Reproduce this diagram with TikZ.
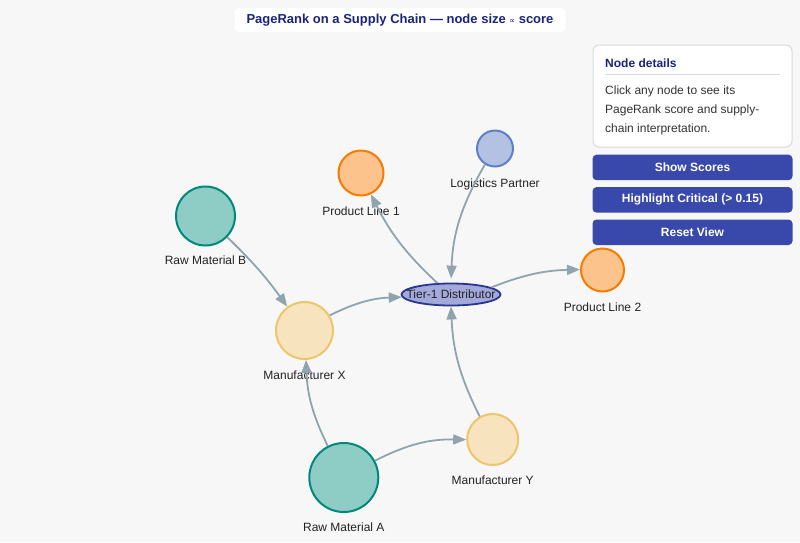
\documentclass[tikz,border=0pt]{standalone}
\usepackage{fontspec}
\setmainfont{Liberation Sans}
\setsansfont{Liberation Sans}
\newfontfamily\dejavu{DejaVu Sans}
\usetikzlibrary{arrows.meta,positioning,shapes.geometric}
\definecolor{ink}{HTML}{222222}
\definecolor{navy}{HTML}{1A237E}
\definecolor{canvas}{HTML}{F7F7F7}
\definecolor{edgegray}{HTML}{90A4AE}
\definecolor{teal}{HTML}{00897B}
\definecolor{tealfill}{HTML}{8ECDC5}
\definecolor{sand}{HTML}{EEC56B}
\definecolor{sandfill}{HTML}{F7E4BE}
\definecolor{orange}{HTML}{F57C00}
\definecolor{orangefill}{HTML}{FCC38D}
\definecolor{steel}{HTML}{5C7FC8}
\definecolor{steelfill}{HTML}{B3C1E2}
\definecolor{indigo}{HTML}{283593}
\definecolor{indigofill}{HTML}{A4A9DB}
\definecolor{button}{HTML}{3949AB}
\definecolor{panelline}{HTML}{D5DBE0}
\definecolor{bodytext}{HTML}{333333}
\tikzset{
  every node/.style={font=\sffamily},
  hub/.style={circle, line width=2pt, inner sep=0pt},
  rawnode/.style={hub, draw=teal, fill=tealfill},
  makernode/.style={hub, draw=sand, fill=sandfill},
  productnode/.style={hub, draw=orange, fill=orangefill},
  logisticsnode/.style={hub, draw=steel, fill=steelfill},
  distnode/.style={ellipse, line width=1.8pt, draw=indigo, fill=indigofill, inner sep=0pt, minimum width=99pt, minimum height=22pt, font=\sffamily\fontsize{12}{14}\selectfont, text=ink},
  caption/.style={font=\sffamily\fontsize{12}{14}\selectfont, text=ink, inner sep=0pt},
  flow/.style={-{Triangle[length=13pt,width=10pt]}, line width=1.8pt, draw=edgegray},
  titlebox/.style={fill=white, rounded corners=4pt, minimum width=331pt, minimum height=24pt, inner sep=0pt, text=navy, font=\sffamily\bfseries\fontsize{13}{15}\selectfont},
  panel/.style={draw=panelline, fill=white, rounded corners=6pt, line width=1pt, minimum width=199pt, minimum height=102pt, inner sep=0pt},
  panelhead/.style={text=navy, inner sep=0pt, font=\sffamily\bfseries\fontsize{12}{14}\selectfont},
  paneltext/.style={text=bodytext, inner sep=0pt, align=left, font=\sffamily\fontsize{12}{19}\selectfont},
  btn/.style={fill=button, rounded corners=4pt, minimum width=200pt, minimum height=25.5pt, inner sep=0pt, text=white, font=\sffamily\bfseries\fontsize{12}{14}\selectfont},
}
\begin{document}
\begin{tikzpicture}[x=1pt, y=-1pt]
\fill[canvas] (0,0) rectangle (800,542);
\useasboundingbox (0,0) rectangle (800,542);
% title and side panel
\node[titlebox] (title) at (400,20) {PageRank on a Supply Chain — node size {\dejavu\mdseries\fontsize{8}{8}\selectfont ∝} score};
\node[panel, anchor=north west] (panel) at (592.5,44.5) {};
\node[panelhead, below right=14pt and 12.5pt of panel.north west] (dethead) {Node details};
\draw[panelline, line width=1pt] ([xshift=12.5pt,yshift=-29.5pt]panel.north west) -- ([xshift=-12.5pt,yshift=-29.5pt]panel.north east);
\node[paneltext, below right=41pt and 12.5pt of panel.north west] (info) {Click any node to see its\\PageRank score and supply-\\chain interpretation.};
\node[btn, below=7pt of panel] (scores) {Show Scores};
\node[btn, below=6.5pt of scores] (critical) {Highlight Critical (> 0.15)};
\node[btn, below=6.5pt of critical] (reset) {Reset View};
% supply chain nodes
\node[rawnode, minimum size=59pt] (rmb) at (205.5,216) {};
\node[productnode, minimum size=45pt] (pl1) at (361,173) {};
\node[logisticsnode, minimum size=36pt] (lp) at (495,148.5) {};
\node[distnode] (tier) at (451,294.5) {\makebox[0pt]{Tier-1 Distributor}};
\node[productnode, minimum size=43pt] (pl2) at (602.5,270) {};
\node[makernode, minimum size=57pt] (mx) at (304.5,330.5) {};
\node[makernode, minimum size=51pt] (my) at (492.7,439.5) {};
\node[rawnode, minimum size=69pt] (rma) at (343.8,477.5) {};
\node[caption, below=9.5pt of rmb] (rmblbl) {Raw Material B};
\node[caption, below=10.5pt of pl1] (pl1lbl) {Product Line 1};
\node[caption, below=11pt of lp] (lplbl) {Logistics Partner};
\node[caption, below=10.5pt of pl2] (pl2lbl) {Product Line 2};
\node[caption, below=10.5pt of mx] (mxlbl) {Manufacturer X};
\node[caption, below=9.5pt of my] (mylbl) {Manufacturer Y};
\node[caption, below=9.5pt of rma] (rmalbl) {Raw Material A};
% links
\draw[flow] (rmb) to[bend left=5] (mx);
\draw[flow] (mx) to[bend left=12] (tier.183);
\draw[flow] (tier.140) to[bend left=10] (pl1);
\draw[flow, shorten >=4pt] (lp) to[bend right=14] (tier.north);
\draw[flow] (tier.10) to[bend left=10] (pl2);
\draw[flow] (my) to[bend left=12] (tier.south);
\draw[flow] (rma) to[bend left=12] (mx);
\draw[flow] (rma) to[bend left=14] (my);
\end{tikzpicture}
\end{document}
